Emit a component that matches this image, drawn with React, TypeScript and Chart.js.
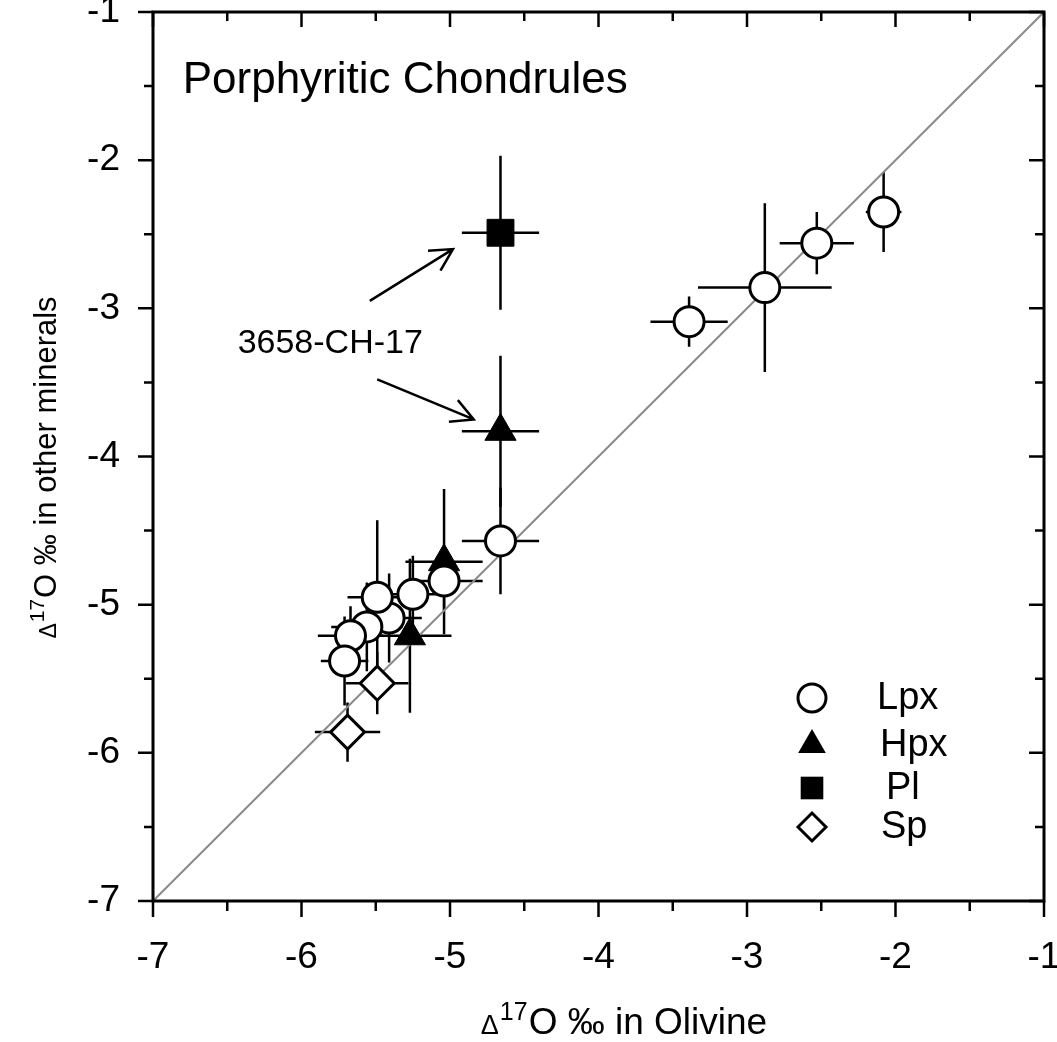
import React, { useEffect, useRef } from 'react';
import { Chart, registerables } from 'chart.js';

Chart.register(...registerables);

const FONT = '"Liberation Sans", Arial, Helvetica, sans-serif';

// ---- axis ticks ----
const xTicks = [-7, -6, -5, -4, -3, -2, -1];
const xTickLabels = ['-7', '-6', '-5', '-4', '-3', '-2', '-1'];
const yTicks = [-7, -6, -5, -4, -3, -2, -1];
const yTickLabels = ['-7', '-6', '-5', '-4', '-3', '-2', '-1'];
const minorTicks = [-6.5, -5.5, -4.5, -3.5, -2.5, -1.5];

// ---- Lpx (open circles) ----
const lpxX = [-2.08, -2.53, -2.88, -3.39, -4.66, -5.04, -5.25, -5.41, -5.49, -5.56, -5.67, -5.71];
const lpxY = [-2.35, -2.56, -2.86, -3.09, -4.57, -4.84, -4.93, -5.09, -4.95, -5.15, -5.21, -5.38];
const lpxXErr = [0.12, 0.25, 0.45, 0.26, 0.26, 0.26, 0.25, 0.22, 0.2, 0.24, 0.22, 0.16];
const lpxYErr = [0.27, 0.21, 0.57, 0.17, 0.36, 0.2, 0.26, 0.3, 0.52, 0.3, 0.2, 0.3];

// ---- Hpx (filled triangles) ----
const hpxX = [-4.66, -5.04, -5.27];
const hpxY = [-3.83, -4.71, -5.21];
const hpxXErr = [0.26, 0.26, 0.28];
const hpxYErr = [0.51, 0.49, 0.52];

// ---- Pl (filled square) ----
const plX = [-4.66];
const plY = [-2.49];
const plXErr = [0.26];
const plYErr = [0.52];

// ---- Sp (open diamonds) ----
const spX = [-5.49, -5.69];
const spY = [-5.53, -5.86];
const spXErr = [0.21, 0.22];
const spYErr = [0.21, 0.2];

// ---- 1:1 reference line ----
const refLineX = [-7, -1];
const refLineY = [-7, -1];

// ---- legend ----
const legendLabels = ['Lpx', 'Hpx', 'Pl', 'Sp'];
const legendStyles = ['circle', 'triangle', 'rect', 'rectRot'];

// ---- texts ----
const plotTitle = 'Porphyritic Chondrules';
const annotationText = '3658-CH-17';
const xTitleMain = 'O ‰ in Olivine';
const yTitleMain = 'O ‰ in other minerals';

function pts(xs: number[], ys: number[]) {
  return xs.map((x, i) => ({ x, y: ys[i] }));
}

function drawMarker(ctx: CanvasRenderingContext2D, style: string, x: number, y: number, r: number) {
  ctx.save();
  ctx.strokeStyle = '#000';
  ctx.lineWidth = 3;
  ctx.beginPath();
  if (style === 'circle') {
    ctx.arc(x, y, r, 0, Math.PI * 2);
    ctx.fillStyle = '#fff';
    ctx.fill();
    ctx.stroke();
  } else if (style === 'triangle') {
    ctx.moveTo(x, y - r);
    ctx.lineTo(x + r * 0.866, y + r * 0.5);
    ctx.lineTo(x - r * 0.866, y + r * 0.5);
    ctx.closePath();
    ctx.fillStyle = '#000';
    ctx.fill();
  } else if (style === 'rect') {
    const s = r * Math.SQRT1_2;
    ctx.rect(x - s, y - s, 2 * s, 2 * s);
    ctx.fillStyle = '#000';
    ctx.fill();
  } else {
    ctx.moveTo(x - r, y);
    ctx.lineTo(x, y - r);
    ctx.lineTo(x + r, y);
    ctx.lineTo(x, y + r);
    ctx.closePath();
    ctx.fillStyle = '#fff';
    ctx.fill();
    ctx.stroke();
  }
  ctx.restore();
}

function drawComposedTitle(
  ctx: CanvasRenderingContext2D,
  cx: number,
  baseY: number,
  deltaSize: number,
  supSize: number,
  supRaise: number,
  mainSize: number,
  main: string
) {
  const parts = [
    { t: 'Δ', size: deltaSize, dy: 0, gap: 1 },
    { t: '17', size: supSize, dy: -supRaise, gap: 1 },
    { t: main, size: mainSize, dy: 0, gap: 0 },
  ];
  let total = 0;
  const widths: number[] = [];
  parts.forEach((p) => {
    ctx.font = `${p.size}px ${FONT}`;
    const w = ctx.measureText(p.t).width;
    widths.push(w);
    total += w + p.gap;
  });
  let x = cx - total / 2;
  ctx.textAlign = 'left';
  ctx.textBaseline = 'alphabetic';
  parts.forEach((p, i) => {
    ctx.font = `${p.size}px ${FONT}`;
    ctx.fillText(p.t, x, baseY + p.dy);
    x += widths[i] + p.gap;
  });
}

function drawArrow(ctx: CanvasRenderingContext2D, x0: number, y0: number, x1: number, y1: number) {
  const ang = Math.atan2(y1 - y0, x1 - x0);
  const len = 25;
  const spread = (28 * Math.PI) / 180;
  ctx.beginPath();
  ctx.moveTo(x0, y0);
  ctx.lineTo(x1, y1);
  ctx.moveTo(x1 - len * Math.cos(ang - spread), y1 - len * Math.sin(ang - spread));
  ctx.lineTo(x1, y1);
  ctx.lineTo(x1 - len * Math.cos(ang + spread), y1 - len * Math.sin(ang + spread));
  ctx.stroke();
}

const decorPlugin = {
  id: 'decor',
  beforeDatasetsDraw(chart: any) {
    const { ctx, chartArea } = chart;
    const xs = chart.scales.x;
    const ys = chart.scales.y;
    ctx.save();
    ctx.beginPath();
    ctx.rect(chartArea.left, chartArea.top, chartArea.right - chartArea.left, chartArea.bottom - chartArea.top);
    ctx.clip();
    ctx.strokeStyle = '#000';
    ctx.lineWidth = 2.5;
    chart.data.datasets.forEach((ds: any) => {
      const eb = ds.errorBars;
      if (!eb) return;
      ds.data.forEach((p: any, i: number) => {
        const px = xs.getPixelForValue(p.x);
        const py = ys.getPixelForValue(p.y);
        const x0 = xs.getPixelForValue(p.x - eb.x[i]);
        const x1 = xs.getPixelForValue(p.x + eb.x[i]);
        const y0 = ys.getPixelForValue(p.y - eb.y[i]);
        const y1 = ys.getPixelForValue(p.y + eb.y[i]);
        ctx.beginPath();
        ctx.moveTo(x0, py);
        ctx.lineTo(x1, py);
        ctx.moveTo(px, y0);
        ctx.lineTo(px, y1);
        ctx.stroke();
      });
    });
    ctx.restore();
  },
  afterDraw(chart: any) {
    const { ctx, chartArea } = chart;
    const xs = chart.scales.x;
    const ys = chart.scales.y;
    const { left, right, top, bottom } = chartArea;
    ctx.save();

    // ticks
    ctx.strokeStyle = '#000';
    ctx.lineWidth = 2.5;
    ctx.beginPath();
    xTicks.forEach((v) => {
      const p = xs.getPixelForValue(v);
      ctx.moveTo(p, bottom);
      ctx.lineTo(p, bottom + 16);
      ctx.moveTo(p, top);
      ctx.lineTo(p, top + 15);
    });
    minorTicks.forEach((v) => {
      const p = xs.getPixelForValue(v);
      ctx.moveTo(p, bottom);
      ctx.lineTo(p, bottom + 10);
      ctx.moveTo(p, top);
      ctx.lineTo(p, top + 9);
    });
    yTicks.forEach((v) => {
      const p = ys.getPixelForValue(v);
      ctx.moveTo(left - 15, p);
      ctx.lineTo(left, p);
      ctx.moveTo(right - 15, p);
      ctx.lineTo(right, p);
    });
    minorTicks.forEach((v) => {
      const p = ys.getPixelForValue(v);
      ctx.moveTo(left - 9, p);
      ctx.lineTo(left, p);
      ctx.moveTo(right - 9, p);
      ctx.lineTo(right, p);
    });
    ctx.stroke();

    // frame
    ctx.lineWidth = 3;
    ctx.strokeRect(left, top, right - left, bottom - top);

    ctx.fillStyle = '#000';

    // plot title
    ctx.font = `44px ${FONT}`;
    ctx.textAlign = 'left';
    ctx.textBaseline = 'alphabetic';
    ctx.fillText(plotTitle, xs.getPixelForValue(-6.8), ys.getPixelForValue(-1.55));

    // annotation
    ctx.font = `34px ${FONT}`;
    ctx.fillText(annotationText, xs.getPixelForValue(-6.43), ys.getPixelForValue(-3.3));
    ctx.lineWidth = 2.5;
    drawArrow(ctx, xs.getPixelForValue(-5.54), ys.getPixelForValue(-2.95), xs.getPixelForValue(-4.98), ys.getPixelForValue(-2.6));
    drawArrow(ctx, xs.getPixelForValue(-5.49), ys.getPixelForValue(-3.48), xs.getPixelForValue(-4.84), ys.getPixelForValue(-3.75));

    // legend
    const legY = [698, 745, 788, 827];
    const legTextX = [877, 880, 886, 881];
    const legR = [14, 16, 16, 14];
    legendLabels.forEach((lab, i) => {
      drawMarker(ctx, legendStyles[i], right - 232, legY[i], legR[i]);
      ctx.font = `38px ${FONT}`;
      ctx.textAlign = 'left';
      ctx.textBaseline = 'middle';
      ctx.fillStyle = '#000';
      ctx.fillText(lab, legTextX[i], legY[i] + 1);
    });

    // x title
    drawComposedTitle(ctx, 624, 1034, 27, 25, 14, 37, xTitleMain);

    // y title
    ctx.save();
    ctx.translate(56, (top + bottom) / 2 + 11);
    ctx.rotate(-Math.PI / 2);
    drawComposedTitle(ctx, 0, 0, 23, 21, 12, 31, yTitleMain);
    ctx.restore();

    ctx.restore();
  },
};

function zeroPad(s: any) {
  s.paddingLeft = 0;
  s.paddingRight = 0;
  s.paddingTop = 0;
  s.paddingBottom = 0;
}

export default function App() {
  const ref = useRef<HTMLCanvasElement>(null);

  useEffect(() => {
    const canvas = ref.current;
    if (!canvas) return;
    const tickFont = { family: FONT, size: 37 };
    const chart = new Chart(canvas, {
      type: 'scatter',
      data: {
        datasets: [
          {
            label: '1:1',
            data: pts(refLineX, refLineY),
            showLine: true,
            borderColor: '#8a8a8a',
            borderWidth: 2,
            pointRadius: 0,
            pointHoverRadius: 0,
            order: 10,
          } as any,
          {
            label: legendLabels[1],
            data: pts(hpxX, hpxY),
            errorBars: { x: hpxXErr, y: hpxYErr },
            pointStyle: 'triangle',
            pointRadius: 18,
            pointHoverRadius: 18,
            pointBackgroundColor: '#000',
            pointBorderColor: '#000',
            pointBorderWidth: 1,
            order: 4,
          },
          {
            label: legendLabels[2],
            data: pts(plX, plY),
            errorBars: { x: plXErr, y: plYErr },
            pointStyle: 'rect',
            pointRadius: 19,
            pointHoverRadius: 19,
            pointBackgroundColor: '#000',
            pointBorderColor: '#000',
            pointBorderWidth: 1,
            order: 3,
          },
          {
            label: legendLabels[3],
            data: pts(spX, spY),
            errorBars: { x: spXErr, y: spYErr },
            pointStyle: 'rectRot',
            pointRadius: 17,
            pointHoverRadius: 17,
            pointBackgroundColor: '#fff',
            pointBorderColor: '#000',
            pointBorderWidth: 3,
            order: 2,
          },
          {
            label: legendLabels[0],
            data: pts(lpxX, lpxY),
            errorBars: { x: lpxXErr, y: lpxYErr },
            pointStyle: 'circle',
            pointRadius: 15,
            pointHoverRadius: 15,
            pointBackgroundColor: '#fff',
            pointBorderColor: '#000',
            pointBorderWidth: 3,
            order: 1,
          },
        ] as any,
      },
      options: {
        animation: false,
        responsive: false,
        events: [],
        layout: { padding: { left: 0, top: 12, right: 13, bottom: 0 }, autoPadding: false },
        plugins: { legend: { display: false }, tooltip: { enabled: false }, title: { display: false } },
        scales: {
          x: {
            type: 'linear',
            position: 'bottom',
            min: -7,
            max: -1,
            grid: { display: false, drawTicks: false },
            border: { display: false },
            afterBuildTicks: (s: any) => {
              s.ticks = xTicks.map((v) => ({ value: v }));
            },
            afterFit: (s: any) => {
              s.height = 141;
              zeroPad(s);
            },
            ticks: {
              autoSkip: false,
              maxRotation: 0,
              padding: 35,
              color: '#000',
              font: tickFont,
              callback: (v: any) => {
                const i = xTicks.indexOf(Number(v));
                return i >= 0 ? xTickLabels[i] : '';
              },
            },
          },
          y: {
            type: 'linear',
            position: 'left',
            min: -7,
            max: -1,
            grid: { display: false, drawTicks: false },
            border: { display: false },
            afterBuildTicks: (s: any) => {
              s.ticks = yTicks.map((v) => ({ value: v }));
            },
            afterFit: (s: any) => {
              s.width = 153;
              zeroPad(s);
            },
            ticks: {
              autoSkip: false,
              padding: 33,
              color: '#000',
              font: tickFont,
              callback: (v: any) => {
                const i = yTicks.indexOf(Number(v));
                return i >= 0 ? yTickLabels[i] : '';
              },
            },
          },
        },
      } as any,
      plugins: [decorPlugin],
    });
    return () => chart.destroy();
  }, []);

  return (
    <div style={{ position: 'absolute', left: 0, top: 0, width: 1057, height: 1042, background: '#fff' }}>
      <canvas ref={ref} width={1057} height={1042} style={{ display: 'block' }} />
    </div>
  );
}
